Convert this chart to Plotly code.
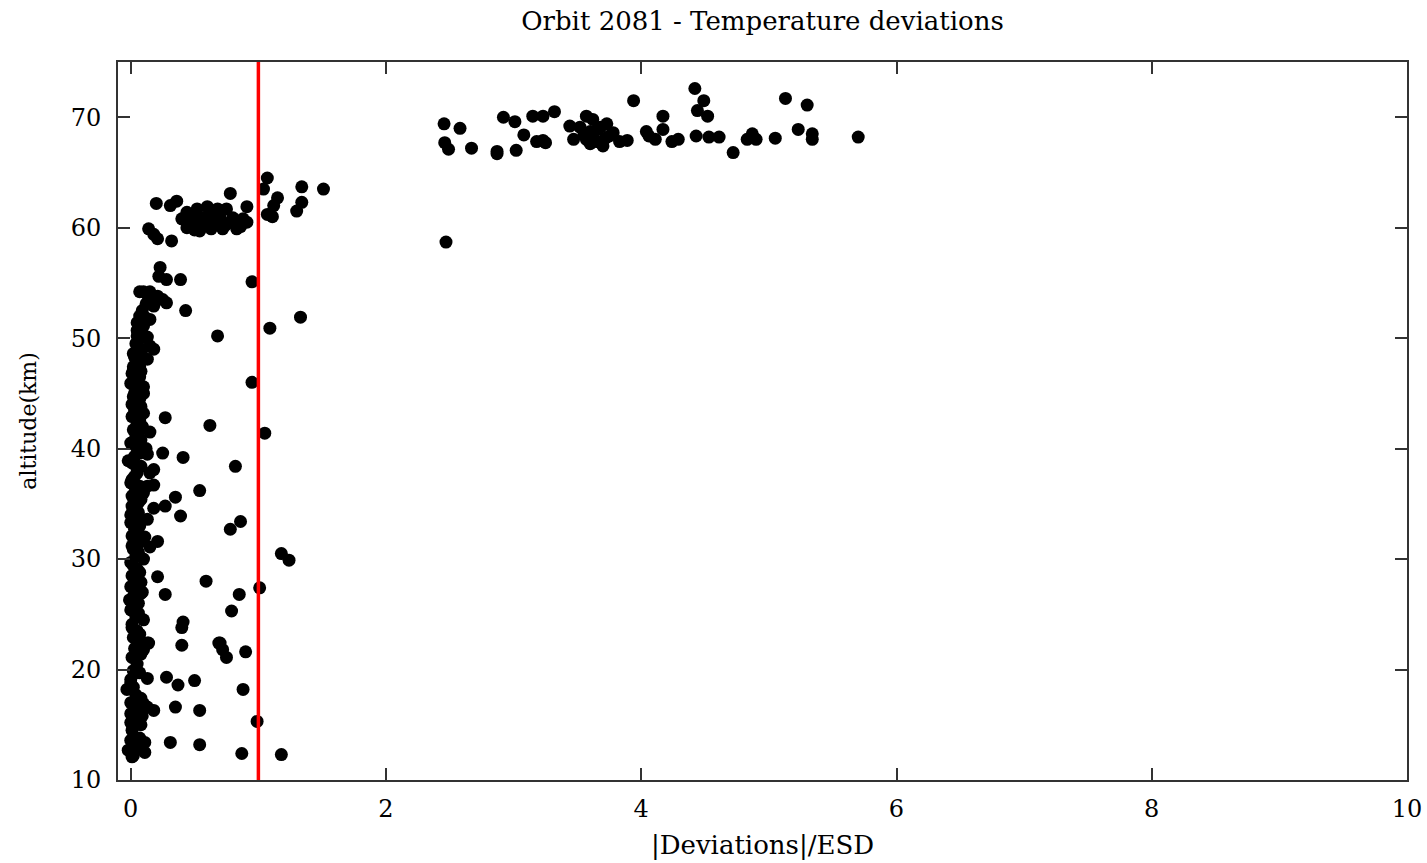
import plotly.graph_objects as go

title_text = "Orbit 2081 - Temperature deviations"
x_title = "|Deviations|/ESD"
y_title = "altitude(km)"
threshold = 1.0
x_ticks = [0, 2, 4, 6, 8, 10]
y_ticks = [10, 20, 30, 40, 50, 60, 70]

# Upper cluster (mesosphere, ~66-73 km)
upper_x = [2.455, 2.58, 2.46, 2.49, 2.67, 2.87, 2.87, 3.02, 2.92, 3.01, 3.08, 3.15, 3.23, 3.32,
           3.23, 3.18, 3.44, 3.47, 3.57, 3.62, 3.52, 3.60, 3.68, 3.73, 3.75, 3.65, 3.70, 3.57,
           3.78, 3.83, 3.89, 3.94, 4.04, 4.11, 4.17, 4.17, 4.24, 4.29, 4.42, 4.49, 4.44, 4.52,
           4.43, 4.53, 4.61, 4.72, 4.87, 4.90, 4.83, 5.05, 5.13, 5.30, 5.23, 5.34, 5.34, 5.70, 2.47,
           3.55, 3.63, 3.68, 3.60, 3.66, 3.72, 3.25, 4.06]
upper_y = [69.4, 69.0, 67.7, 67.1, 67.2, 66.7, 66.9, 67.0, 70.0, 69.6, 68.4, 70.1, 70.1, 70.5,
           67.9, 67.8, 69.2, 68.0, 70.1, 69.8, 69.1, 68.7, 69.1, 69.4, 68.3, 67.8, 67.4, 68.0,
           68.6, 67.8, 67.9, 71.5, 68.7, 68.0, 70.1, 68.9, 67.8, 68.0, 72.6, 71.5, 70.6, 70.1,
           68.3, 68.2, 68.2, 66.8, 68.5, 68.0, 68.0, 68.1, 71.7, 71.1, 68.9, 68.5, 68.0, 68.2, 58.7,
           68.4, 68.0, 67.7, 67.6, 68.9, 68.1, 67.7, 68.3]

# ~58-65 km cluster
mid_x = [1.07, 1.04, 1.34, 1.51, 1.15, 1.12, 1.07, 1.11, 1.34, 1.30, 0.78, 0.91, 0.20, 0.36, 0.31,
         0.44, 0.52, 0.60, 0.68, 0.47, 0.54, 0.62, 0.70, 0.75, 0.78, 0.86, 0.91, 0.54, 0.44, 0.72, 0.83,
         0.14, 0.18, 0.21, 0.32,
         0.49, 0.57, 0.65, 0.40, 0.58, 0.66, 0.80, 0.88, 0.50, 0.63, 0.74]
mid_y = [64.5, 63.5, 63.7, 63.5, 62.7, 62.0, 61.2, 61.0, 62.3, 61.5, 63.1, 61.9, 62.2, 62.4, 62.0,
         61.4, 61.7, 61.9, 61.7, 60.5, 60.1, 60.8, 61.0, 61.7, 60.5, 60.1, 60.5, 59.7, 60.0, 59.9, 59.9,
         59.9, 59.4, 59.0, 58.8,
         61.0, 60.9, 61.2, 60.8, 60.4, 60.3, 60.9, 60.8, 59.8, 59.9, 60.2]

# Lower atmosphere (12-57 km)
low_x = [0.23, 0.22, 0.28, 0.39, 0.95, 0.07, 0.15, 0.21, 0.25, 0.13, 0.18, 0.28, 0.43, 0.07, 0.05,
         0.10, 0.15, 1.33, 1.09, 0.68, 0.05, 0.13, 0.15, 0.18, 0.07, 0.05, 0.13, 0.02, 0.07, 0.10,
         0.05, 0.07, 0.05, 0.95,
         0.27, 0.62, 1.05, 0.25, 0.13, 0.41, 0.82, 0.18, 0.15, 0.18, 0.13, 0.54, 0.35, 0.27, 0.18,
         0.39, 0.13, 0.86, 0.78, 0.21, 0.15, 1.18, 1.24, 0.21, 0.59, 1.01, 0.27, 0.85, 0.79, 0.41,
         0.40, 0.14, 0.40, 0.70, 0.69, 0.72, 0.75, 0.90, 0.13, 0.10, 0.15,
         0.28, 0.37, 0.50, 0.88, 0.07, 0.13, 0.00, -0.03, 0.02, 0.35, 0.54, 0.99,
         0.00, 0.05, 0.13, 0.18, 0.02, 0.00, 0.07, 0.02,
         0.31, 0.54, 0.87, 1.18, 0.00, 0.07, 0.11, -0.02, 0.05, 0.01,
         0.10, 0.04, 0.09, 0.03, 0.08, 0.01, 0.06, 0.11, 0.02, 0.08, 0.04, 0.00]
low_y = [56.4, 55.6, 55.3, 55.3, 55.1, 54.2, 54.2, 53.8, 53.5, 53.2, 52.9, 53.2, 52.5, 52.0, 51.4,
         51.1, 51.7, 51.9, 50.9, 50.2, 50.2, 50.1, 49.3, 49.0, 48.7, 48.1, 48.1, 47.4, 46.5, 45.6,
         45.1, 44.5, 43.8, 46.0,
         42.8, 42.1, 41.4, 39.6, 39.5, 39.2, 38.4, 38.1, 37.8, 36.7, 36.6, 36.2, 35.6, 34.8, 34.6,
         33.9, 33.6, 33.4, 32.7, 31.6, 31.1, 30.5, 29.9, 28.4, 28.0, 27.4, 26.8, 26.8, 25.3, 24.3,
         23.8, 22.4, 22.2, 22.4, 22.4, 21.8, 21.1, 21.6, 22.4, 21.8, 41.5,
         19.3, 18.6, 19.0, 18.2, 19.7, 19.2, 19.1, 18.2, 18.4, 16.6, 16.3, 15.3,
         17.0, 17.1, 16.6, 16.3, 16.1, 15.2, 15.4, 14.8,
         13.4, 13.2, 12.4, 12.3, 13.6, 13.8, 13.4, 12.7, 12.9, 12.1,
         16.9, 16.4, 15.8, 15.6, 15.0, 14.5, 13.1, 12.5, 12.2, 17.4, 17.7, 16.0]

# Dense column near zero
col_x = [0.02, 0.05, 0.01, 0.04, 0.00, 0.06, 0.02, 0.03, 0.08, 0.01, 0.05, 0.00, 0.04, 0.02, 0.07,
         0.01, 0.03, 0.00, 0.05, 0.02, 0.06, 0.01, 0.04, 0.00, 0.03, 0.05, 0.01, 0.03, 0.06, 0.00,
         0.04, 0.02, 0.05, 0.01, 0.03, 0.06, 0.02, 0.04, 0.00, 0.05, 0.02, 0.07, 0.03, 0.06, 0.04,
         0.09, 0.05, 0.08, 0.11, 0.09, 0.12, 0.14, 0.10,
         0.10, 0.09, 0.10, 0.11, 0.10, 0.12, 0.09, 0.10, 0.08, 0.09, -0.01, 0.00, -0.02, 0.01,
         0.02, 0.05, 0.01, 0.08, 0.03, 0.06, 0.00, 0.04,
         0.07, 0.01, 0.06, 0.03, 0.08, 0.00, 0.05, 0.07, 0.02, 0.06, 0.01, 0.08, 0.04, 0.07, 0.02,
         0.06, 0.01, 0.08, 0.03, 0.07, 0.01, 0.05, 0.08, 0.02, 0.07, 0.04, 0.08, 0.06, 0.09, 0.07,
         0.10, 0.08, 0.06, 0.03, 0.09, 0.05, 0.01, 0.07, 0.04, 0.02]
col_y = [22.9, 23.5, 24.1, 24.8, 25.4, 26.0, 26.6, 27.2, 27.9, 28.5, 29.1, 29.7, 30.3, 30.9, 31.5,
         32.1, 32.7, 33.3, 33.9, 34.5, 35.1, 35.7, 36.3, 36.9, 37.5, 38.1, 38.7, 39.3, 39.9, 40.5,
         41.1, 41.7, 42.3, 42.9, 43.5, 44.1, 44.7, 45.3, 45.9, 46.5, 47.1, 47.7, 48.3, 48.9, 49.5,
         50.1, 50.7, 51.3, 51.9, 52.5, 53.1, 53.7, 54.2,
         24.5, 27.0, 30.0, 32.0, 36.0, 40.0, 42.0, 45.0, 47.0, 49.0, 26.3, 34.0, 38.9, 44.0,
         19.9, 20.5, 21.1, 21.4, 21.9, 22.3, 18.8, 20.9,
         23.2, 23.8, 25.1, 25.7, 26.9, 27.5, 28.2, 28.8, 29.4, 30.6, 31.2, 31.8, 32.4, 33.0, 33.6,
         34.2, 34.8, 35.4, 36.0, 36.6, 37.2, 37.8, 38.4, 39.0, 39.6, 40.2, 40.8, 41.4, 42.0, 42.6,
         43.2, 43.8, 44.4, 45.0, 45.6, 46.2, 46.8, 47.4, 48.0, 48.6]

xs = upper_x + mid_x + low_x + col_x
ys = upper_y + mid_y + low_y + col_y

serif = "DejaVu Serif"
axis_color = "#333333"

fig = go.Figure()
fig.add_trace(go.Scatter(
    x=xs, y=ys, mode="markers",
    marker=dict(color="black", size=13, line=dict(width=0)),
    showlegend=False, hoverinfo="x+y",
))
fig.add_trace(go.Scatter(
    x=[threshold, threshold], y=[10, 75], mode="lines",
    line=dict(color="#ff0000", width=3.5),
    showlegend=False, hoverinfo="skip",
))

axis_common = dict(
    showline=True, linecolor=axis_color, linewidth=2, mirror="ticks",
    ticks="inside", ticklen=12, tickwidth=2, tickcolor=axis_color,
    showgrid=False, zeroline=False, automargin=False,
    tickfont=dict(family=serif, size=24, color="black"),
)

fig.update_layout(
    width=1427, height=863,
    margin=dict(l=118, r=20, t=62, b=83, pad=0),
    paper_bgcolor="white", plot_bgcolor="white",
    title=dict(text=title_text, x=0.5, xref="paper", xanchor="center",
               y=1 - 21 / 863, yref="container", yanchor="middle",
               font=dict(family=serif, size=26, color="black")),
    xaxis=dict(range=[-0.1, 10], tickvals=x_ticks, ticklabelstandoff=6,
               title=dict(text=x_title, font=dict(family=serif, size=26, color="black"), standoff=14),
               **axis_common),
    yaxis=dict(range=[10, 75], tickvals=y_ticks, ticklabelstandoff=10,
               title=dict(text=y_title, font=dict(family=serif, size=22, color="black"), standoff=28),
               **axis_common),
)

fig.write_html("out.html")
